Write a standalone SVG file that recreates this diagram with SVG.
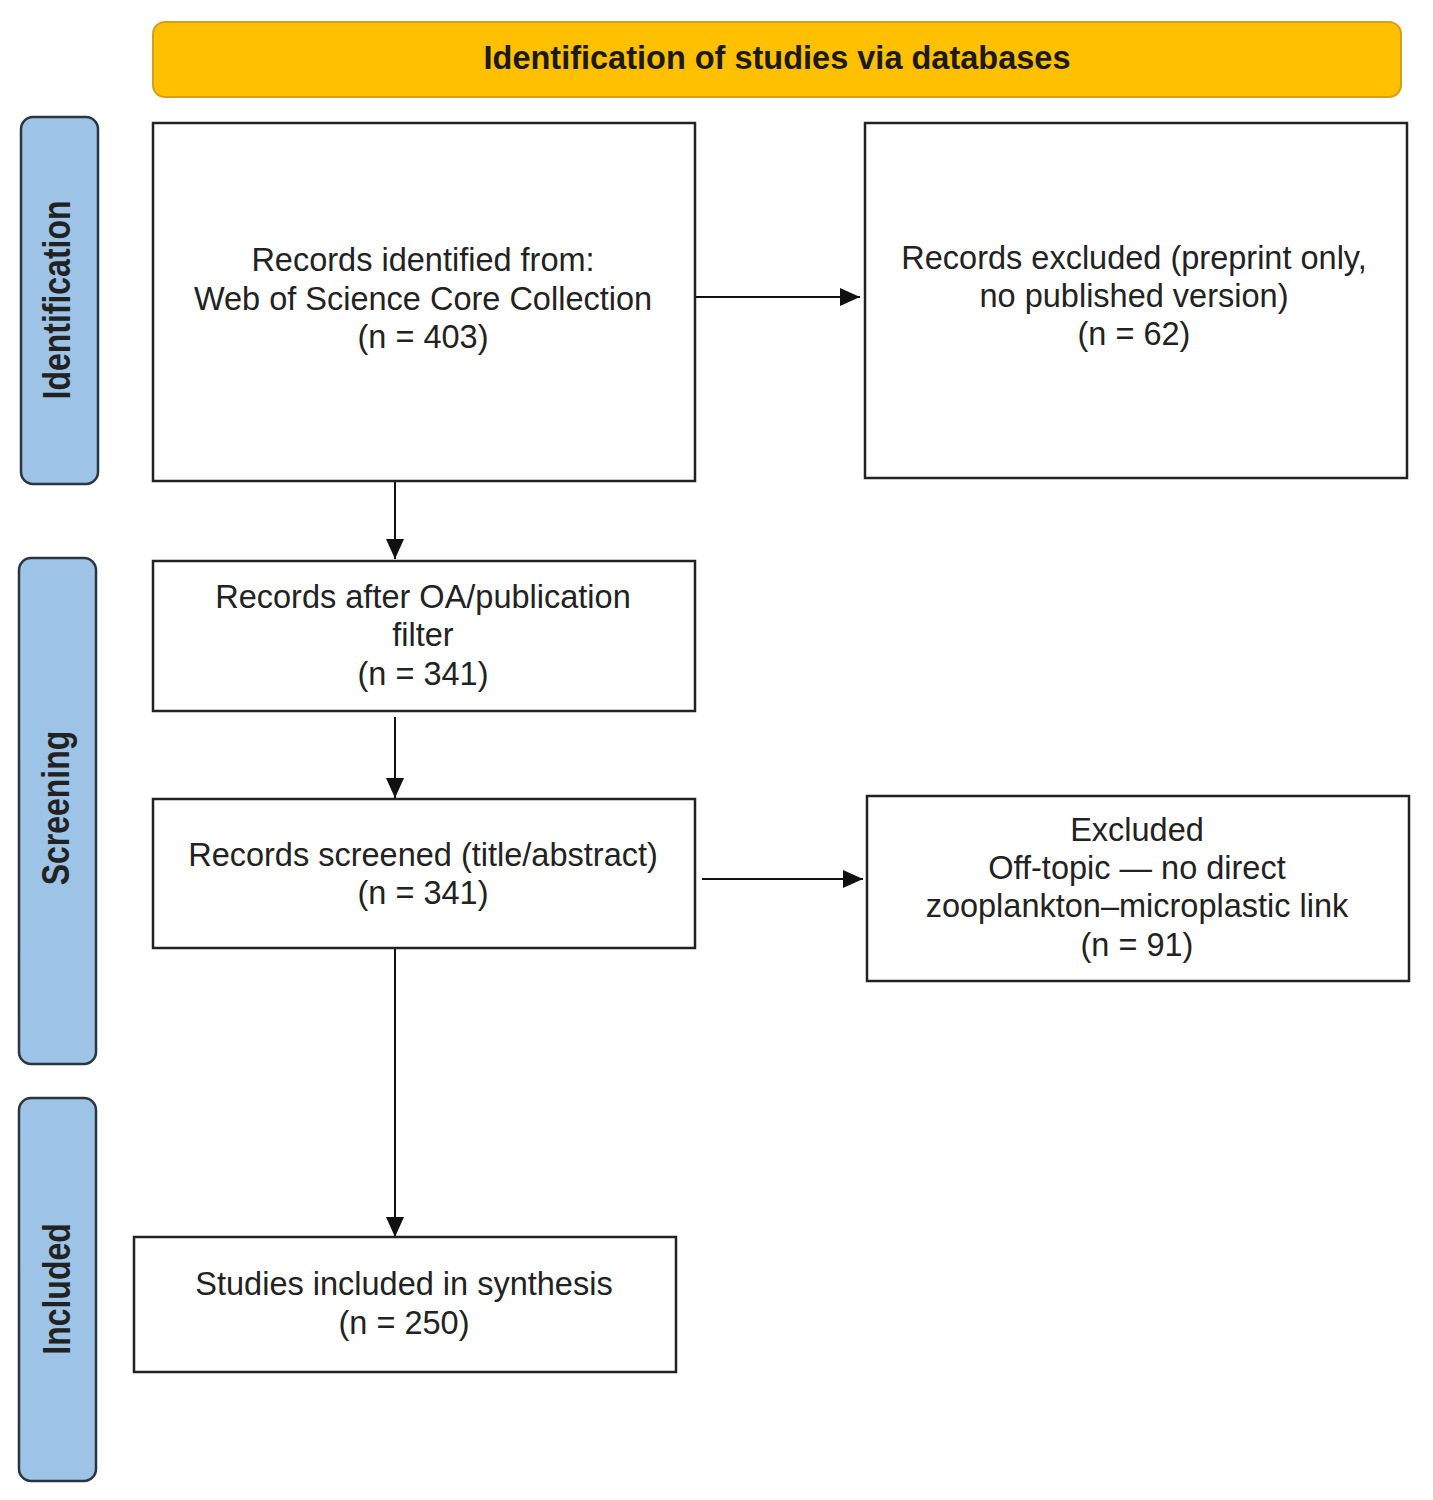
<svg xmlns="http://www.w3.org/2000/svg" width="1433" height="1500" viewBox="0 0 1433 1500">
<defs>
<style>
.box{fill:#fff;stroke:#222;stroke-width:2.5}
.side{fill:#9DC3E6;stroke:#2B3540;stroke-width:2.5}
.hdr{fill:#FFC000;stroke:#D4A017;stroke-width:2}
.t{font-family:"Liberation Sans",Arial,sans-serif;font-size:32.5px;fill:#222;text-anchor:middle}
.st{font-family:"Liberation Sans",Arial,sans-serif;font-size:32px;font-weight:bold;fill:#222;text-anchor:middle}
.ht{font-family:"Liberation Sans",Arial,sans-serif;font-size:32.5px;font-weight:bold;fill:#1a1a1a;text-anchor:middle}
.conn{stroke:#111;stroke-width:2;fill:none}
</style>
<marker id="arr" markerUnits="userSpaceOnUse" markerWidth="20" markerHeight="18" refX="20" refY="9" orient="auto">
<path d="M0,0 L20,9 L0,18 Z" fill="#111"/>
</marker>
</defs>
<rect width="1433" height="1500" fill="#fff"/>

<g id="header">
<rect class="hdr" x="153" y="22" width="1248" height="75" rx="12"/>
<text class="ht" x="777" y="69">Identification of studies via databases</text>
</g>

<g id="phase-identification">
<rect class="side" x="21" y="117" width="77" height="367" rx="12"/>
<text class="st" transform="translate(70 300) scale(1.2 1) rotate(-90)">Identification</text>
</g>
<g id="phase-screening">
<rect class="side" x="19" y="558" width="77" height="506" rx="12"/>
<text class="st" transform="translate(69 808) scale(1.2 1) rotate(-90)">Screening</text>
</g>
<g id="phase-included">
<rect class="side" x="19" y="1098" width="77" height="383" rx="12"/>
<text class="st" transform="translate(70 1289) scale(1.2 1) rotate(-90)">Included</text>
</g>

<g id="connectors">
<line class="conn" x1="696" y1="297" x2="860" y2="297" marker-end="url(#arr)"/>
<line class="conn" x1="395" y1="481" x2="395" y2="559" marker-end="url(#arr)"/>
<line class="conn" x1="395" y1="717" x2="395" y2="798" marker-end="url(#arr)"/>
<line class="conn" x1="702" y1="879" x2="863" y2="879" marker-end="url(#arr)"/>
<line class="conn" x1="395" y1="949" x2="395" y2="1237" marker-end="url(#arr)"/>
</g>

<g id="records-identified">
<rect class="box" x="153" y="123" width="542" height="358"/>
<text class="t" x="423" y="271">Records identified from:</text>
<text class="t" x="423" y="309.5">Web of Science Core Collection</text>
<text class="t" x="423" y="348">(n = 403)</text>
</g>

<g id="records-excluded">
<rect class="box" x="865" y="123" width="542" height="355"/>
<text class="t" x="1134" y="269">Records excluded (preprint only,</text>
<text class="t" x="1134" y="307">no published version)</text>
<text class="t" x="1134" y="345">(n = 62)</text>
</g>

<g id="records-after-filter">
<rect class="box" x="153" y="561" width="542" height="150"/>
<text class="t" x="423" y="608">Records after OA/publication</text>
<text class="t" x="423" y="646">filter</text>
<text class="t" x="423" y="685">(n = 341)</text>
</g>

<g id="records-screened">
<rect class="box" x="153" y="799" width="542" height="149"/>
<text class="t" x="423" y="866">Records screened (title/abstract)</text>
<text class="t" x="423" y="904">(n = 341)</text>
</g>

<g id="excluded-offtopic">
<rect class="box" x="867" y="796" width="542" height="185"/>
<text class="t" x="1137" y="841">Excluded</text>
<text class="t" x="1137" y="879">Off-topic — no direct</text>
<text class="t" x="1137" y="917">zooplankton–microplastic link</text>
<text class="t" x="1137" y="956">(n = 91)</text>
</g>

<g id="studies-included">
<rect class="box" x="134" y="1237" width="542" height="135"/>
<text class="t" x="404" y="1295">Studies included in synthesis</text>
<text class="t" x="404" y="1334">(n = 250)</text>
</g>
</svg>
